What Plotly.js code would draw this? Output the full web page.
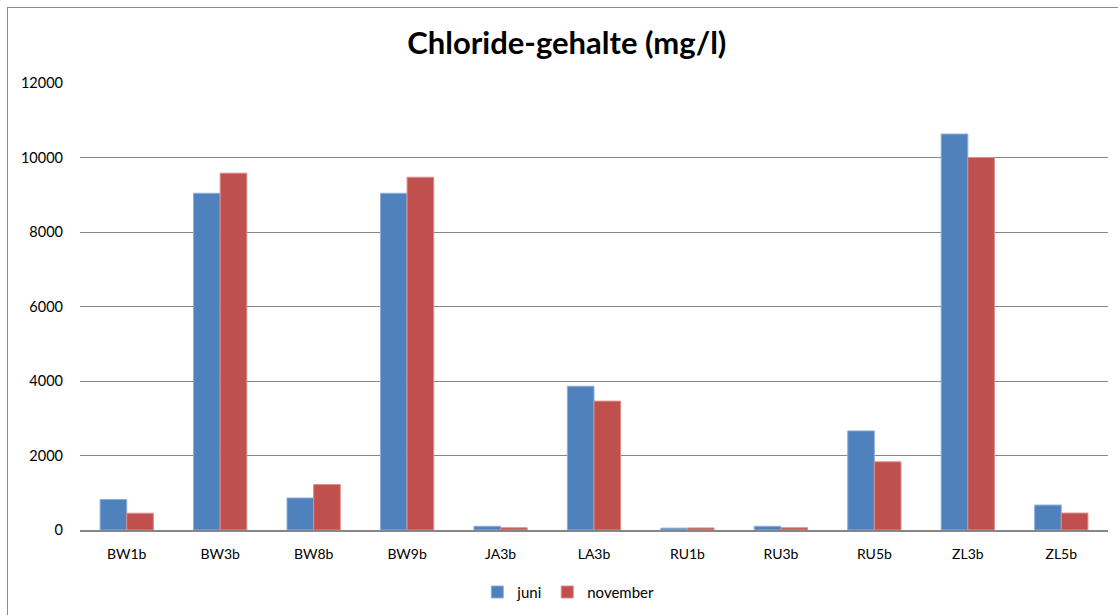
<!DOCTYPE html>
<html>
<head>
<meta charset="utf-8">
<script src="https://cdn.plot.ly/plotly-3.0.1.min.js"></script>
<style>
html,body{margin:0;padding:0;background:#fff;overflow:hidden}
#wrap{position:relative;width:1118px;height:615px}
#chart{position:absolute;left:0;top:0;width:1118px;height:615px}
#frame{position:absolute;left:7px;top:7px;width:1200px;height:700px;border:1px solid #8c8c8c;pointer-events:none}
</style>
</head>
<body>
<div id="wrap"><div id="chart"></div><div id="frame"></div></div>
<script>
const categories = ["BW1b","BW3b","BW8b","BW9b","JA3b","LA3b","RU1b","RU3b","RU5b","ZL3b","ZL5b"];
const juni = [820, 9040, 860, 9040, 100, 3860, 50, 100, 2660, 10630, 670];
const november = [450, 9580, 1220, 9470, 60, 3460, 55, 60, 1830, 10000, 455];
const yTicks = [0, 2000, 4000, 6000, 8000, 10000, 12000];

const font = "Lato, 'Open Sans', 'DejaVu Sans', sans-serif";
const data = [
  {type:"bar", name:"juni", x:categories, y:juni,
   marker:{color:"#4F81BD", line:{color:"#8eaedb", width:1}}},
  {type:"bar", name:"november", x:categories, y:november,
   marker:{color:"#C0504D", line:{color:"#dc8c8a", width:1}}}
];
const layout = {
  width:1118, height:615,
  margin:{l:80, r:10, t:83, b:85, autoexpand:false},
  paper_bgcolor:"#ffffff", plot_bgcolor:"#ffffff",
  title:{text:"<b>Chloride-gehalte (mg/l)</b>", x:0.507, xanchor:"center", y:0.93, yanchor:"middle",
         font:{family:font, size:31, color:"#000"}},
  barmode:"group", bargap:0.43, bargroupgap:0,
  xaxis:{showline:true, linecolor:"#868686", linewidth:2, showgrid:false, ticks:"",
         tickfont:{family:font, size:14, color:"#000"}, ticklabelstandoff:10},
  yaxis:{range:[0,12000], tickvals:yTicks, ticktext:yTicks.map(String), showgrid:true,
         gridcolor:"#868686", gridwidth:1, zeroline:false, showline:false, ticks:"",
         tickfont:{family:font, size:14.5, color:"#000"}, ticklabelstandoff:16},
  showlegend:true,
  legend:{orientation:"h", x:0.475, xanchor:"center", yref:"container", y:0.037, yanchor:"middle",
          font:{family:font, size:15, color:"#000"}, itemwidth:30, traceorder:"normal"}
};
Plotly.newPlot("chart", data, layout, {staticPlot:true, displayModeBar:false});
</script>
</body>
</html>
